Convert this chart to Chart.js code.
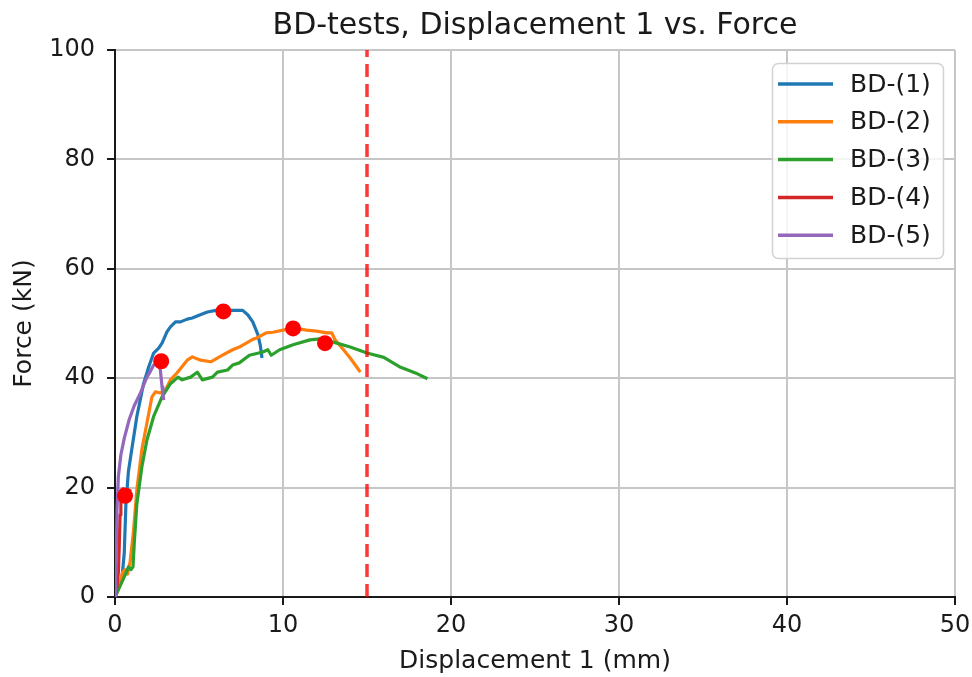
<!DOCTYPE html>
<html>
<head>
<meta charset="utf-8">
<script src="https://cdn.jsdelivr.net/npm/chart.js@4.4.1/dist/chart.umd.min.js"></script>
<style>
  html, body { margin: 0; padding: 0; background: #ffffff; }
  canvas { display: block; }
</style>
</head>
<body>
<canvas id="chart" width="972" height="677"></canvas>
<script>
// Brazilian-disc (BD) tests: displacement 1 (mm) against force (kN)
const chartTitle = 'BD-tests, Displacement 1 vs. Force';
const seriesLabels = ['BD-(1)', 'BD-(2)', 'BD-(3)', 'BD-(4)', 'BD-(5)'];
const seriesColors = ['#1f77b4', '#ff7f0e', '#2ca02c', '#d62728', '#9467bd'];

const bd1Disp  = [0, 0.2, 0.4, 0.55, 0.65, 0.8, 1.0, 1.3, 1.7, 2.0, 2.3, 2.6, 2.8, 3.1, 3.3, 3.6, 3.9, 4.3, 4.6, 5.0, 5.5, 6.0, 6.4, 7.0, 7.6, 7.9, 8.2, 8.5, 8.65, 8.75];
const bd1Force = [0, 1.5, 3, 8, 17, 23, 27, 33, 39, 42, 44.6, 45.5, 46.4, 48.5, 49.4, 50.3, 50.3, 50.8, 51, 51.5, 52.1, 52.4, 52.5, 52.4, 52.4, 51.6, 50.3, 48, 46, 43.7];

const bd2Disp  = [0, 0.25, 0.45, 0.6, 0.75, 0.9, 1.1, 1.3, 1.6, 1.9, 2.2, 2.4, 2.7, 3.0, 3.3, 3.7, 4.3, 4.6, 5.1, 5.7, 6.4, 7.0, 7.4, 8.2, 8.4, 9.0, 9.4, 10.0, 10.6, 11.4, 12.0, 12.6, 12.9, 13.1, 13.6, 14.0, 14.4, 14.6];
const bd2Force = [0, 2, 4.5, 5, 4.2, 6.5, 12, 19.6, 27, 31.8, 36.6, 37.5, 37.3, 37.8, 39.7, 41, 43.3, 43.9, 43.3, 43, 44.2, 45.2, 45.7, 47.1, 47.3, 48.3, 48.4, 48.8, 49.2, 48.8, 48.6, 48.3, 48.3, 47, 45.2, 43.7, 42, 41.1];

const bd3Disp  = [0, 0.3, 0.6, 0.8, 0.95, 1.07, 1.15, 1.3, 1.6, 1.9, 2.3, 2.8, 3.3, 3.75, 4.0, 4.5, 4.9, 5.2, 5.8, 6.1, 6.7, 7.0, 7.4, 8.0, 8.8, 9.1, 9.3, 9.8, 10.6, 11.6, 12.2, 12.5, 13.0, 14.0, 15.0, 16.0, 17.0, 18.0, 18.6];
const bd3Force = [0, 2, 4, 5.5, 5, 5.5, 10, 17, 23.8, 28.7, 33, 36.6, 39, 40.2, 39.7, 40.2, 41.1, 39.7, 40.2, 41.1, 41.5, 42.4, 42.8, 44.2, 44.8, 45.2, 44.2, 45.2, 46.1, 47, 47.2, 46.9, 46.6, 45.7, 44.6, 43.8, 42, 40.8, 39.9];

const bd4Disp  = [0, 0.12, 0.2, 0.25, 0.3, 0.35, 0.5, 0.65, 0.8, 0.95];
const bd4Force = [0, 2, 4.5, 9, 15, 19.5, 19.8, 19.4, 19.6, 19.3];

const bd5Disp  = [0, 0.04, 0.08, 0.12, 0.2, 0.35, 0.55, 0.85, 1.15, 1.5, 1.9, 2.1, 2.3, 2.5, 2.6, 2.7, 2.8, 2.85, 2.9];
const bd5Force = [0, 3, 9, 16, 22, 26, 29, 32.5, 35, 37.2, 40.2, 41.2, 42.4, 43, 42.6, 41.5, 38.4, 37.2, 36];

// peak force of each test
const peakDisp  = [6.45, 10.6, 12.5, 0.6, 2.75];
const peakForce = [52.2, 49.1, 46.4, 18.5, 43.1];

// displacement limit marker
const limitDisp = 15;

const xTickValues = [0, 10, 20, 30, 40, 50];
const yTickValues = [0, 20, 40, 60, 80, 100];

const dispSeries  = [bd1Disp, bd2Disp, bd3Disp, bd4Disp, bd5Disp];
const forceSeries = [bd1Force, bd2Force, bd3Force, bd4Force, bd5Force];

const toPoints = (xs, ys) => xs.map((x, i) => ({ x: x, y: ys[i] }));

const datasets = seriesLabels.map((label, i) => ({
  label: label,
  data: toPoints(dispSeries[i], forceSeries[i]),
  showLine: true,
  borderColor: seriesColors[i],
  backgroundColor: seriesColors[i],
  borderWidth: 3.2,
  borderJoinStyle: 'round',
  pointRadius: 0,
  pointHoverRadius: 0,
  tension: 0,
  order: 6 - i
}));

datasets.push({
  label: 'peaks',
  data: toPoints(peakDisp, peakForce),
  showLine: false,
  pointRadius: 8,
  pointBorderWidth: 0,
  pointBackgroundColor: '#ff0000',
  pointBorderColor: '#ff0000',
  order: 1
});

datasets.push({
  label: 'limit',
  data: [{ x: limitDisp, y: 0 }, { x: limitDisp, y: 100 }],
  showLine: true,
  borderColor: 'rgba(255,0,0,0.78)',
  borderWidth: 3.5,
  borderDash: [13, 7],
  borderCapStyle: 'butt',
  pointRadius: 0,
  order: 0
});

// title centred over the plot area
const plotTitle = {
  id: 'plotTitle',
  afterDraw(chart) {
    const { ctx, chartArea: a } = chart;
    ctx.save();
    ctx.font = '30px "DejaVu Sans"';
    ctx.fillStyle = '#1a1a1a';
    ctx.textAlign = 'center';
    ctx.textBaseline = 'middle';
    ctx.fillText(chartTitle, (a.left + a.right) / 2, a.top - 24);
    ctx.restore();
  }
};

// legend box drawn in the upper right corner of the plot area
const boxLegend = {
  id: 'boxLegend',
  afterDraw(chart) {
    const { ctx, chartArea: a } = chart;
    const w = 171, h = 195;
    const right = a.right - 12, top = a.top + 13;
    const left = right - w;
    ctx.save();
    ctx.beginPath();
    ctx.roundRect(left + 0.5, top + 0.5, w, h, 6);
    ctx.fillStyle = 'rgba(255,255,255,0.8)';
    ctx.fill();
    ctx.strokeStyle = '#d2d2d2';
    ctx.lineWidth = 1.5;
    ctx.stroke();
    ctx.font = '25px "DejaVu Sans"';
    ctx.textBaseline = 'middle';
    ctx.textAlign = 'left';
    seriesLabels.forEach((label, i) => {
      const y = top + 21 + i * 37.8;
      ctx.strokeStyle = seriesColors[i];
      ctx.lineWidth = 3.5;
      ctx.beginPath();
      ctx.moveTo(left + 6, y);
      ctx.lineTo(left + 61, y);
      ctx.stroke();
      ctx.fillStyle = '#1a1a1a';
      ctx.fillText(label, left + 78, y + 1);
    });
    ctx.restore();
  }
};

Chart.defaults.font.family = '"DejaVu Sans", sans-serif';
Chart.defaults.color = '#1a1a1a';

new Chart(document.getElementById('chart'), {
  type: 'scatter',
  data: { datasets: datasets },
  plugins: [plotTitle, boxLegend],
  options: {
    responsive: false,
    animation: false,
    devicePixelRatio: 1,
    layout: { padding: { left: 0, right: 17, top: 50, bottom: 0 } },
    plugins: {
      legend: { display: false },
      tooltip: { enabled: false },
      title: { display: false }
    },
    scales: {
      x: {
        type: 'linear',
        min: 0,
        max: 50,
        afterBuildTicks: s => { s.ticks = xTickValues.map(v => ({ value: v })); },
        afterFit: s => { s.height = 80; s.paddingLeft = 0; s.paddingRight = 0; },
        ticks: { font: { size: 24 }, color: '#1a1a1a', padding: 6, maxRotation: 0 },
        grid: { color: '#c6c6c6', lineWidth: 2, tickColor: '#1a1a1a', tickLength: 8, tickWidth: 2 },
        border: { color: '#1a1a1a', width: 2 },
        title: { display: true, text: 'Displacement 1 (mm)', font: { size: 25 }, color: '#1a1a1a', padding: { top: 0, bottom: 1 } }
      },
      y: {
        type: 'linear',
        min: 0,
        max: 100,
        afterBuildTicks: s => { s.ticks = yTickValues.map(v => ({ value: v })); },
        afterFit: s => { s.width = 115; s.paddingTop = 0; s.paddingBottom = 0; },
        ticks: { font: { size: 24 }, color: '#1a1a1a', padding: 12 },
        grid: { color: '#c6c6c6', lineWidth: 2, tickColor: '#1a1a1a', tickLength: 8, tickWidth: 2 },
        border: { color: '#1a1a1a', width: 2 },
        title: { display: true, text: 'Force (kN)', font: { size: 25 }, color: '#1a1a1a', padding: { top: 9, bottom: 0 } }
      }
    }
  }
});
</script>
</body>
</html>
